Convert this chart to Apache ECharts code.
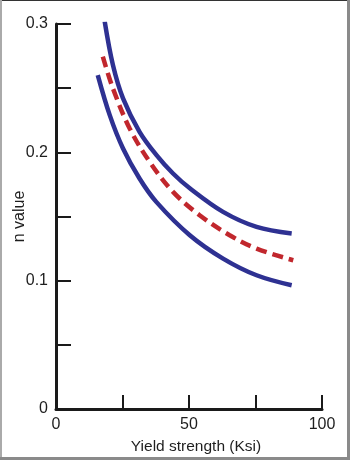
<!DOCTYPE html>
<html>
<head>
<meta charset="utf-8">
<script src="https://cdn.jsdelivr.net/npm/echarts@6/dist/echarts.min.js"></script>
<style>
  html, body { margin: 0; padding: 0; background: #fff; }
  #chart { width: 350px; height: 460px; }
</style>
</head>
<body>
<div id="chart"></div>
<script>
// Strain-hardening exponent vs. yield strength: upper bound, mean, lower bound
const upperBand = [[18.3, 0.302], [21.4, 0.268], [25.2, 0.242], [31.4, 0.216], [37.7, 0.198],
                   [44.0, 0.1835], [50.3, 0.172], [62.8, 0.1536], [75.4, 0.1419], [88.6, 0.1367]];
const meanCurve = [[17.6, 0.2745], [21.4, 0.2498], [27.7, 0.2186], [35.2, 0.1926], [44.0, 0.1692],
                   [54.0, 0.151], [65.3, 0.1354], [75.4, 0.125], [89.2, 0.1159]];
const lowerBand = [[15.7, 0.2602], [20.2, 0.229], [25.2, 0.203], [31.4, 0.1796], [37.7, 0.1614],
                   [50.3, 0.1354], [62.8, 0.1172], [75.4, 0.1042], [88.6, 0.0964]];

const xLabels = [0, 50, 100];
const yLabels = [0, 0.1, 0.2, 0.3];

const FONT = "'Liberation Sans', Arial, sans-serif";
const TEXT_COLOR = '#1e1e1e';
const AXIS_COLOR = '#1a1a1a';
const BLUE = '#2e3192';
const RED = '#c1272d';

const chart = echarts.init(document.getElementById('chart'), null, { renderer: 'canvas' });

const near = (v, list) => list.some(t => Math.abs(t - v) < 1e-6);

chart.setOption({
  animation: false,
  backgroundColor: '#fff',
  grid: { left: 56, right: 28, top: 24, bottom: 51, containLabel: false, outerBoundsMode: 'none' },
  graphic: [
    { type: 'rect', shape: { x: 0, y: 0, width: 350, height: 1 }, style: { fill: '#333' }, silent: true },
    { type: 'rect', shape: { x: 0, y: 0, width: 2, height: 460 }, style: { fill: '#aaa' }, silent: true },
    { type: 'rect', shape: { x: 347, y: 0, width: 3, height: 460 }, style: { fill: '#8a8a8a' }, silent: true },
    { type: 'rect', shape: { x: 0, y: 457, width: 350, height: 3 }, style: { fill: '#8a8a8a' }, silent: true }
  ],
  xAxis: {
    type: 'value',
    min: 0, max: 100, interval: 25,
    name: 'Yield strength (Ksi)',
    nameLocation: 'middle',
    nameGap: 30,
    nameMoveOverlap: false,
    nameTextStyle: { fontFamily: FONT, fontSize: 15.5, color: TEXT_COLOR, padding: [0, 0, 0, 14] },
    axisLine: { show: true, lineStyle: { color: AXIS_COLOR, width: 3 } },
    axisTick: { show: true, inside: true, length: 14, lineStyle: { color: AXIS_COLOR, width: 2 } },
    axisLabel: {
      fontFamily: FONT, fontSize: 16, color: TEXT_COLOR, margin: 8,
      formatter: v => near(v, xLabels) ? String(v) : ''
    },
    splitLine: { show: false }
  },
  yAxis: {
    type: 'value',
    min: 0, max: 0.3, interval: 0.05,
    name: 'n value',
    nameLocation: 'middle',
    nameGap: 28,
    nameMoveOverlap: false,
    nameRotate: 90,
    nameTextStyle: { fontFamily: FONT, fontSize: 16, color: TEXT_COLOR },
    axisLine: { show: true, lineStyle: { color: AXIS_COLOR, width: 3 } },
    axisTick: { show: true, inside: true, length: 15, lineStyle: { color: AXIS_COLOR, width: 2 } },
    axisLabel: {
      fontFamily: FONT, fontSize: 16, color: TEXT_COLOR, margin: 8,
      formatter: v => near(v, yLabels) ? (v === 0 ? '0' : v.toFixed(1)) : ''
    },
    splitLine: { show: false }
  },
  series: [
    {
      name: 'Upper', type: 'line', data: upperBand, smooth: 0.35, symbol: 'none',
      lineStyle: { color: BLUE, width: 4.5 }, z: 3
    },
    {
      name: 'Mean', type: 'line', data: meanCurve, smooth: 0.35, symbol: 'none',
      lineStyle: { color: RED, width: 4.5, type: [11, 6] }, z: 3
    },
    {
      name: 'Lower', type: 'line', data: lowerBand, smooth: 0.35, symbol: 'none',
      lineStyle: { color: BLUE, width: 4.5 }, z: 3
    }
  ]
});
</script>
</body>
</html>
